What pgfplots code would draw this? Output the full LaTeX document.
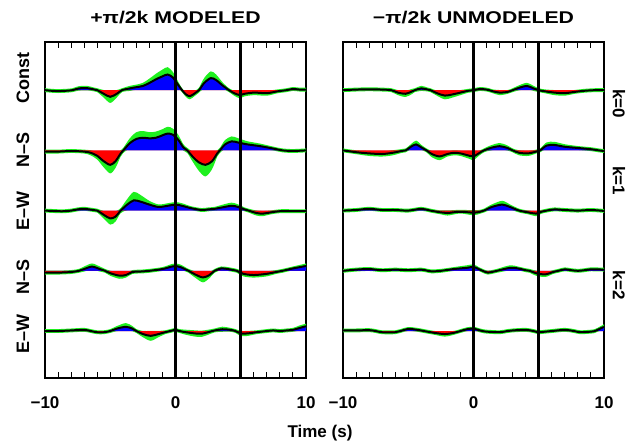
\documentclass[border=0pt]{standalone}
\usepackage{fontspec}
\setmainfont{Liberation Sans}
\usepackage{graphicx}
\usepackage{pgfplots}
\pgfplotsset{compat=1.18}
\usepackage{pgfplotstable}
\usepgfplotslibrary{fillbetween}
\definecolor{mygreen}{RGB}{30,240,30}
\newcommand\lab{\fontsize{17}{20}\selectfont\bfseries}
\newcommand\ylab{\fontsize{18}{20}\selectfont\bfseries}

% ---------- left panel (+pi/2k modeled) ----------
\pgfplotstableread{
t y e
-10 0 0.02
-9.5 -0.01 0.02
-9 -0.015 0.02
-8.4 -0.01 0.02
-7.9 0 0.02
-7.4 0.03 0.025
-6.8 0.035 0.025
-6.3 0.015 0.02
-6 0 0.02
-5.5 -0.06 0.05
-5 -0.11 0.09
-4.5 -0.06 0.05
-4.1 0 0.02
-3.5 0.03 0.03
-3 0.05 0.03
-2.5 0.07 0.04
-2 0.12 0.06
-1.5 0.18 0.08
-1 0.23 0.1
-0.6 0.26 0.11
-0.2 0.21 0.08
0.2 0.09 0.04
0.5 0 0.02
0.8 -0.07 0.03
1.1 -0.1 0.04
1.5 -0.05 0.03
1.8 0 0.03
2.2 0.12 0.07
2.7 0.2 0.1
3.1 0.17 0.08
3.6 0.08 0.04
4.1 0 0.02
4.5 -0.05 0.03
4.9 -0.08 0.04
5.3 -0.06 0.03
6 -0.04 0.03
7 -0.05 0.03
7.8 -0.02 0.02
8.5 0 0.02
9 0.02 0.02
9.5 0.01 0.02
10 0.01 0.02
}\LA
\pgfplotstableread{
t y e
-10 -0.02 0.02
-9 -0.02 0.02
-8 -0.01 0.02
-7 -0.02 0.02
-6.5 -0.04 0.03
-6 -0.09 0.05
-5.5 -0.18 0.09
-5 -0.24 0.13
-4.6 -0.18 0.1
-4.2 -0.05 0.04
-4 0 0.03
-3.5 0.12 0.07
-3 0.19 0.1
-2.5 0.21 0.1
-2 0.2 0.09
-1.5 0.21 0.09
-1 0.25 0.09
-0.6 0.28 0.1
-0.2 0.26 0.09
0.2 0.18 0.07
0.6 0.05 0.04
0.9 0 0.03
1.3 -0.1 0.07
1.8 -0.2 0.13
2.3 -0.24 0.18
2.8 -0.18 0.12
3.2 -0.05 0.04
3.4 0 0.03
3.8 0.1 0.06
4.3 0.15 0.07
4.8 0.13 0.06
5.5 0.1 0.04
6.5 0.07 0.03
7.5 0.03 0.02
8.2 0 0.02
9 -0.01 0.02
10 0 0.02
}\LB
\pgfplotstableread{
t y e
-10 0 0.02
-9 -0.01 0.02
-8.5 -0.01 0.02
-8 0 0.02
-7.5 0.02 0.02
-7 0.03 0.02
-6.3 0.01 0.02
-6 0 0.02
-5.5 -0.07 0.05
-5 -0.13 0.09
-4.6 -0.1 0.07
-4.2 0 0.03
-3.7 0.1 0.08
-3.2 0.17 0.13
-2.7 0.15 0.1
-2 0.1 0.05
-1.3 0.06 0.03
-0.6 0.08 0.03
0 0.1 0.03
0.5 0.08 0.03
1.2 0.04 0.02
2 0.01 0.02
2.5 0.02 0.02
3 0.03 0.02
3.5 0.05 0.03
4.3 0.08 0.04
4.8 0.06 0.03
5.3 0.02 0.02
5.6 0 0.02
6.2 -0.04 0.03
6.7 -0.05 0.03
7.3 -0.03 0.02
8 -0.01 0.02
9 -0.01 0.02
10 -0.01 0.02
}\LC
\pgfplotstableread{
t y e
-10 -0.03 0.02
-9 -0.03 0.02
-8 -0.02 0.02
-7.4 0 0.02
-7 0.03 0.03
-6.4 0.07 0.04
-5.8 0.03 0.03
-5.4 0 0.02
-5 -0.04 0.03
-4.3 -0.08 0.04
-3.8 -0.07 0.03
-3.3 -0.02 0.02
-2.5 -0.01 0.02
-2 0 0.02
-1 0.03 0.02
-0.3 0.07 0.03
0 0.08 0.03
0.4 0.06 0.03
0.9 0.01 0.02
1 0 0.02
1.5 -0.06 0.04
2.1 -0.11 0.07
2.6 -0.07 0.04
3 0 0.02
3.5 0.04 0.02
4 0.03 0.02
4.5 0.01 0.02
4.7 0 0.02
5.2 -0.05 0.03
6 -0.07 0.03
7 -0.05 0.03
7.7 -0.02 0.02
8.2 0 0.02
9 0.04 0.02
10 0.08 0.03
}\LD
\pgfplotstableread{
t y e
-10 0 0.02
-9 0 0.02
-8 0.01 0.02
-7 0.02 0.02
-6.5 0 0.02
-6 -0.02 0.02
-5.5 -0.02 0.02
-5 0 0.02
-4.5 0.04 0.03
-3.8 0.07 0.05
-3.3 0.04 0.03
-3 0 0.02
-2.5 -0.05 0.04
-1.9 -0.08 0.07
-1.3 -0.05 0.04
-0.8 -0.02 0.02
-0.4 0 0.02
0 0.02 0.02
0.3 0 0.02
0.8 -0.02 0.03
1.5 -0.04 0.04
2 -0.045 0.04
2.5 -0.02 0.03
3 0.01 0.02
3.6 0.03 0.03
4.2 0.02 0.02
4.6 0 0.02
5 -0.04 0.03
5.5 -0.04 0.03
6.2 -0.02 0.02
7 0 0.02
7.5 0.01 0.02
8 0 0.02
8.5 0.01 0.02
9 0.02 0.02
9.5 0.05 0.03
10 0.08 0.03
}\LE

% ---------- right panel (-pi/2k unmodeled) ----------
\pgfplotstableread{
t y e
-10 0 0.02
-9 0.01 0.02
-8 0.015 0.02
-7 0.01 0.02
-6.3 0 0.02
-5.8 -0.04 0.03
-5.2 -0.06 0.04
-4.7 -0.02 0.03
-4.5 0 0.02
-4 0.03 0.03
-3.5 0.01 0.02
-3.3 0 0.02
-2.8 -0.05 0.03
-2.2 -0.09 0.05
-1.6 -0.07 0.04
-1 -0.04 0.03
-0.4 -0.01 0.02
0 0 0.02
0.5 0.02 0.02
1 0.01 0.02
1.2 0 0.02
1.5 -0.02 0.02
2 -0.04 0.03
2.6 -0.03 0.02
3 0 0.02
3.5 0.04 0.03
4.1 0.07 0.04
4.6 0.03 0.03
5 0 0.02
5.5 -0.02 0.02
6.2 -0.04 0.03
7 -0.05 0.03
7.7 -0.03 0.02
8.5 -0.01 0.02
9.3 0 0.02
10 0 0.02
}\RA
\pgfplotstableread{
t y e
-10 0 0.02
-9 -0.03 0.02
-8 -0.05 0.03
-7 -0.06 0.03
-6.2 -0.04 0.03
-5.5 -0.01 0.02
-5.2 0 0.02
-4.8 0.06 0.03
-4.4 0.1 0.05
-4 0.05 0.03
-3.6 0 0.02
-3.2 -0.06 0.04
-2.6 -0.1 0.05
-2 -0.06 0.03
-1.5 -0.04 0.03
-1 -0.05 0.03
-0.3 -0.09 0.04
0 -0.1 0.05
0.4 -0.05 0.03
0.8 0 0.02
1.3 0.04 0.03
2 0.07 0.04
2.6 0.04 0.03
3 0 0.02
3.5 -0.04 0.03
4.2 -0.05 0.03
4.8 -0.02 0.02
5.1 0 0.02
5.6 0.08 0.04
6.2 0.09 0.04
7 0.06 0.03
8 0.04 0.02
9 0.02 0.02
9.6 0 0.02
10 -0.01 0.02
}\RB
\pgfplotstableread{
t y e
-10 0 0.02
-9 0.01 0.02
-8 0.03 0.02
-7 0.01 0.02
-6 0.01 0.02
-5 0 0.02
-4 0.03 0.02
-3.3 0 0.02
-2.5 -0.03 0.02
-2 -0.04 0.03
-1.2 -0.02 0.02
-0.8 -0.02 0.02
0 -0.035 0.03
0.5 -0.02 0.02
0.8 0 0.02
1.4 0.06 0.03
2.2 0.1 0.05
2.8 0.06 0.03
3.5 0 0.02
4.2 -0.03 0.02
4.8 -0.05 0.03
5.2 -0.02 0.02
5.6 0 0.02
6.2 0.02 0.02
7 0.01 0.02
8 0 0.02
9 0.01 0.02
10 -0.005 0.02
}\RC
\pgfplotstableread{
t y e
-10 0 0.02
-9 0.02 0.02
-8 0.03 0.02
-7 0.01 0.02
-6 0.02 0.02
-5 0.01 0.02
-4 0.02 0.02
-3.5 0 0.02
-3.2 -0.01 0.02
-2.5 0 0.02
-1.5 0.03 0.02
-0.5 0.05 0.03
0 0.065 0.03
0.4 0.03 0.02
0.7 0 0.02
1.1 -0.03 0.02
1.6 -0.01 0.02
1.8 0 0.02
2.8 0.05 0.03
3.4 0.04 0.02
4 0.01 0.02
4.3 0 0.02
4.8 -0.04 0.03
5.5 -0.06 0.03
6.1 -0.02 0.02
6.5 0 0.02
7 0.025 0.02
7.5 0.01 0.02
8 0 0.02
8.5 0.01 0.02
9 0.025 0.02
10 0.02 0.02
}\RD
\pgfplotstableread{
t y e
-10 0.01 0.02
-9 0.01 0.02
-8 0.015 0.02
-7.5 0 0.02
-7 -0.02 0.02
-6 -0.02 0.02
-5.6 0 0.02
-5 0.035 0.02
-4.3 0.02 0.02
-3.8 0 0.02
-3 -0.03 0.02
-2.2 -0.05 0.03
-1.5 -0.03 0.02
-1 0 0.02
-0.5 0.03 0.02
0 0.04 0.02
0.5 0.01 0.02
0.7 0 0.02
1 -0.01 0.02
2 -0.02 0.02
2.6 0 0.02
3 0.01 0.02
4 0.02 0.02
4.6 0 0.02
5 -0.02 0.02
5.5 -0.01 0.02
6 0 0.02
7 0.02 0.02
7.7 0 0.02
8.2 -0.02 0.02
9 -0.01 0.02
9.3 0 0.02
9.5 0.02 0.02
10 0.07 0.03
}\RE

% #1 table, #2 baseline offset, #3 unique id
\newcommand\trace[3]{%
  \addplot[draw=none, smooth, name path=h#3] table[x=t, y expr={\thisrow{y}+\thisrow{e}+0.012+#2}] {#1};
  \addplot[draw=none, smooth, name path=l#3] table[x=t, y expr={\thisrow{y}-\thisrow{e}-0.012+#2}] {#1};
  \addplot[fill=mygreen, draw=none] fill between[of=h#3 and l#3];
  \addplot[draw=none, smooth, name path=u#3] table[x=t, y expr={max(\thisrow{y},0)+#2}] {#1};
  \addplot[draw=none, smooth, name path=d#3] table[x=t, y expr={min(\thisrow{y},0)+#2}] {#1};
  \addplot[draw=none, name path=b#3] coordinates {(-10,#2) (10,#2)};
  \addplot[fill=blue, draw=none] fill between[of=u#3 and b#3];
  \addplot[fill=red, draw=none] fill between[of=d#3 and b#3];
  \addplot[black, line width=2pt, smooth] table[x=t, y expr={\thisrow{y}+#2}] {#1};
}

\pgfplotsset{panel/.style={
  scale only axis, width=261pt, height=336pt,
  xmin=-10, xmax=10, ymin=-0.78, ymax=4.8,
  ytick=\empty,
  xtick={-10,0,10}, xticklabels={−10,0,10},
  minor xtick={-9,-8,-7,-6,-5,-4,-3,-2,-1,1,2,3,4,6,7,8,9},
  tick align=inside, major tick length=0pt, minor tick length=6pt,
  minor tick style={black, line width=1pt},
  axis line style={black, line width=2pt},
  xticklabel style={font=\lab, yshift=-15pt},
  clip=false,
}}

\begin{document}
\begin{tikzpicture}
\begin{axis}[panel, name=L, at={(0pt,0pt)}, anchor=south west]
  \trace{\LA}{4}{a}
  \trace{\LB}{3}{b}
  \trace{\LC}{2}{c}
  \trace{\LD}{1}{d}
  \trace{\LE}{0}{e}
  \addplot[black, line width=2.6pt] coordinates {(0,-0.78) (0,4.8)};
  \addplot[black, line width=2.6pt] coordinates {(5,-0.78) (5,4.8)};
  \node[rotate=90, font=\ylab] at ([xshift=-22pt]axis cs:-10,4.2) {Const};
  \node[rotate=90, font=\ylab] at ([xshift=-22pt]axis cs:-10,3.0) {N–S};
  \node[rotate=90, font=\ylab] at ([xshift=-22pt]axis cs:-10,2.0) {E–W};
  \node[rotate=90, font=\ylab] at ([xshift=-22pt]axis cs:-10,0.9) {N–S};
  \node[rotate=90, font=\ylab] at ([xshift=-22pt]axis cs:-10,-0.05) {E–W};
\end{axis}
\begin{axis}[panel, name=R, at={(298pt,0pt)}, anchor=south west]
  \trace{\RA}{4}{A}
  \trace{\RB}{3}{B}
  \trace{\RC}{2}{C}
  \trace{\RD}{1}{D}
  \trace{\RE}{0}{E}
  \addplot[black, line width=2.6pt] coordinates {(0,-0.78) (0,4.8)};
  \addplot[black, line width=2.6pt] coordinates {(5,-0.78) (5,4.8)};
  \node[rotate=-90, font=\lab] at ([xshift=15pt]axis cs:10,3.78) {k=0};
  \node[rotate=-90, font=\lab] at ([xshift=15pt]axis cs:10,2.5) {k=1};
  \node[rotate=-90, font=\lab] at ([xshift=15pt]axis cs:10,0.76) {k=2};
\end{axis}
\node[font=\lab] at ([yshift=24pt]L.north) {\scalebox{1.25}[1]{+π/2k MODELED}};
\node[font=\lab] at ([yshift=24pt]R.north) {\scalebox{1.25}[1]{−π/2k UNMODELED}};
\node[font=\lab] at ([xshift=275pt, yshift=-55pt]L.south west) {Time (s)};
\path (-45pt,-65pt) rectangle (586pt,378pt);
\end{tikzpicture}
\end{document}
